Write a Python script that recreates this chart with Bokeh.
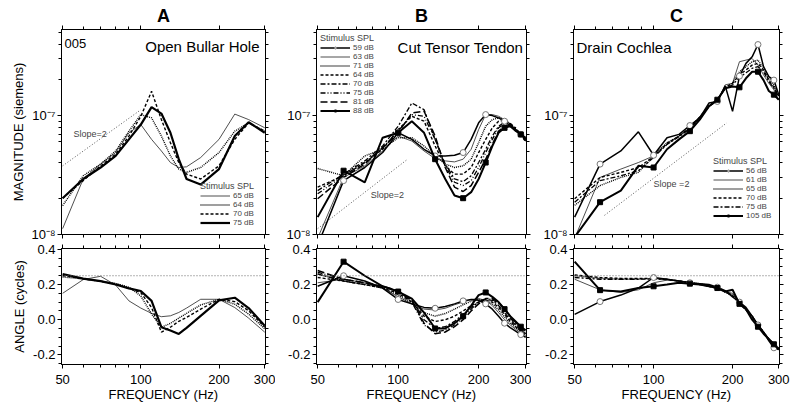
from bokeh.plotting import figure
from bokeh.models import (Range1d, FixedTicker, LogAxis, LinearAxis, CustomJSTickFormatter,
                          Label, Span, Legend, LegendItem)
from bokeh.layouts import gridplot
from bokeh.embed import file_html
from bokeh.resources import INLINE

FONT = "Liberation Sans"
UNIT = 1e-8  # magnitudes below are in units of 1e-8 siemens

# ---------------- Panel A : Open Bullar Hole ----------------
FREQ_A = [50, 60, 70, 80, 90, 100, 110, 120, 130, 140, 150, 170, 200, 230, 260, 300]
MAG_A_65 = [1.12, 2.93, 3.91, 4.89, 7.17, 8.41, 6.31, 5.04, 4.03, 3.66, 3.71, 4.44, 6.31, 10.3, 9.26, 7.9]
MAG_A_64 = [1.75, 3.12, 3.91, 5.04, 7.40, 10.2, 9.57, 6.73, 4.58, 3.55, 3.33, 3.66, 4.89, 7.40, 8.69, 7.40]
MAG_A_70 = [2.02, 2.84, 3.78, 4.73, 6.73, 9.87, 16.0, 9.26, 5.92, 4.03, 3.22, 2.93, 3.78, 6.31, 8.69, 7.40]
MAG_A_75 = [2.02, 2.93, 3.66, 4.58, 6.31, 8.41, 11.8, 10.4, 7.17, 4.30, 2.93, 2.63, 3.55, 6.73, 8.80, 7.17]
ANG_A_65 = [0.15, 0.228, 0.247, 0.197, 0.107, 0.066, 0.036, 0.017, 0.022, 0.041, 0.066, 0.116, 0.116, 0.069, 0.009, -0.071]
ANG_A_64 = [0.243, 0.232, 0.219, 0.206, 0.185, 0.135, 0.032, -0.043, -0.021, 0.009, 0.036, 0.084, 0.116, 0.088, 0.032, -0.052]
ANG_A_70 = [0.251, 0.232, 0.219, 0.204, 0.178, 0.154, 0.069, -0.071, -0.043, -0.009, 0.013, 0.06, 0.116, 0.103, 0.051, -0.043]
ANG_A_75 = [0.26, 0.234, 0.219, 0.2, 0.178, 0.163, 0.107, -0.043, -0.062, -0.081, -0.047, 0.022, 0.11, 0.125, 0.066, -0.034]
SLOPE_A_F = [50, 100]
SLOPE_A_V = [3.78, 11.2]

# ---------------- Panel B : Cut Tensor Tendon ----------------
FREQ_B = [50, 62.5, 75, 87.5, 100, 112.5, 125, 137.5, 150, 162.5, 175, 187.5, 200,
          212.5, 225, 237.5, 250, 262.5, 275, 287.5, 300]
MAG_B_59 = [0.81, 2.84, 3.66, 4.89, 7.17, 6.31, 5.21, 4.58, 4.58, 4.64, 4.89, 6.31, 8.69, 10.2, 10.0, 9.56, 8.97, 8.15, 7.40, 6.95, 6.3]
MAG_B_63 = [0.93, 3.02, 3.78, 5.04, 6.73, 6.11, 5.04, 4.35, 4.16, 4.08, 4.30, 5.21, 7.64, 10.2, 10.2, 9.87, 9.26, 8.41, 7.64, 6.95, 6.4]
MAG_B_71 = [3.59, 3.12, 4.58, 5.21, 6.52, 6.52, 5.55, 4.58, 3.91, 3.66, 3.78, 4.30, 5.92, 8.15, 9.26, 9.56, 9.26, 8.41, 7.64, 6.95, 6.2]
MAG_B_64 = [2.50, 3.12, 4.03, 5.21, 7.64, 9.87, 8.97, 5.55, 3.78, 3.22, 3.22, 3.66, 4.89, 6.31, 7.89, 8.97, 9.14, 8.58, 7.74, 6.95, 6.0]
MAG_B_70 = [2.34, 3.22, 4.16, 5.55, 8.15, 12.75, 11.22, 6.31, 3.91, 2.93, 2.78, 3.12, 4.03, 5.21, 6.73, 8.15, 8.80, 8.58, 7.89, 6.95, 6.1]
MAG_B_75 = [2.20, 3.12, 4.03, 5.38, 7.40, 10.19, 9.87, 6.31, 3.78, 2.75, 2.58, 2.84, 3.66, 4.89, 6.31, 7.89, 8.58, 8.41, 7.74, 6.95, 6.2]
MAG_B_81 = [2.0, 3.02, 3.91, 5.38, 7.17, 10.52, 10.87, 6.73, 3.66, 2.50, 2.30, 2.58, 3.33, 4.30, 5.73, 7.40, 8.15, 8.25, 7.64, 6.95, 6.3]
MAG_B_88 = [1.40, 3.44, 2.75, 6.52, 7.17, 8.97, 7.17, 4.30, 2.93, 2.13, 2.02, 2.27, 2.93, 4.03, 5.55, 7.17, 7.89, 8.15, 7.55, 6.95, 6.5]
ANG_B_59 = [0.19, 0.25, 0.22, 0.18, 0.115, 0.09, 0.07, 0.065, 0.075, 0.09, 0.107, 0.115, 0.11, 0.09, 0.06, 0.02, -0.02, -0.045, -0.065, -0.085, -0.1]
ANG_B_63 = [0.21, 0.23, 0.21, 0.18, 0.13, 0.09, 0.06, 0.055, 0.065, 0.085, 0.1, 0.115, 0.12, 0.11, 0.08, 0.04, 0.0, -0.03, -0.055, -0.075, -0.09]
ANG_B_71 = [0.26, 0.22, 0.2, 0.18, 0.14, 0.09, 0.04, 0.02, 0.035, 0.06, 0.085, 0.105, 0.115, 0.11, 0.09, 0.055, 0.015, -0.02, -0.045, -0.07, -0.085]
ANG_B_64 = [0.24, 0.22, 0.2, 0.18, 0.15, 0.1, 0.02, -0.01, 0.0, 0.02, 0.05, 0.08, 0.1, 0.11, 0.1, 0.07, 0.03, -0.01, -0.04, -0.065, -0.08]
ANG_B_70 = [0.26, 0.22, 0.2, 0.19, 0.16, 0.11, 0.0, -0.05, -0.04, -0.01, 0.03, 0.07, 0.1, 0.115, 0.11, 0.08, 0.04, 0.0, -0.03, -0.06, -0.08]
ANG_B_75 = [0.27, 0.23, 0.21, 0.19, 0.16, 0.1, -0.03, -0.07, -0.06, -0.03, 0.01, 0.06, 0.1, 0.12, 0.115, 0.09, 0.05, 0.01, -0.025, -0.055, -0.075]
ANG_B_81 = [0.28, 0.23, 0.21, 0.19, 0.165, 0.11, -0.02, -0.08, -0.07, -0.04, 0.0, 0.05, 0.09, 0.12, 0.12, 0.1, 0.06, 0.02, -0.015, -0.045, -0.07]
ANG_B_88 = [0.1, 0.33, 0.25, 0.19, 0.16, 0.12, 0.04, -0.05, -0.05, -0.02, 0.02, 0.08, 0.14, 0.155, 0.13, 0.1, 0.06, 0.02, -0.01, -0.04, -0.06]
SLOPE_B_F = [50, 108.5]
SLOPE_B_V = [1.12, 4.30]

# ---------------- Panel C : Drain Cochlea ----------------
FREQ_C = FREQ_B
MAG_C_56 = [1.40, 3.91, 5.04, 7.31, 4.64, 6.52, 6.95, 8.25, 9.56, 12.75, 13.16, 17.78, 10.87, 21.5, 27.5, 31.2, 39.6, 25.8, 21.3, 19.9, 14.96]
MAG_C_61 = [0.93, 3.02, 3.55, 4.03, 4.58, 5.73, 6.73, 7.89, 9.87, 11.96, 13.16, 18.13, 18.72, 28.4, 29.3, 30.2, 26.6, 22.0, 18.7, 16.5, 13.6]
MAG_C_65 = [1.76, 2.58, 3.02, 3.33, 4.58, 5.92, 6.73, 7.89, 9.56, 11.96, 13.59, 17.0, 18.7, 23.4, 25.8, 28.4, 29.3, 25.0, 20.6, 18.1, 15.0]
MAG_C_70 = [2.0, 3.02, 3.33, 3.66, 4.52, 5.85, 6.73, 7.89, 9.75, 12.1, 13.6, 17.3, 18.7, 22.0, 24.2, 26.6, 27.5, 24.2, 19.9, 17.3, 14.6]
MAG_C_75 = [1.87, 2.84, 3.12, 3.44, 4.44, 5.73, 6.65, 7.74, 9.56, 11.96, 13.4, 17.0, 18.1, 21.0, 22.9, 25.0, 25.8, 23.4, 19.3, 17.0, 14.4]
MAG_C_105 = [0.95, 1.87, 2.34, 3.78, 3.66, 5.21, 6.31, 7.40, 9.26, 11.96, 13.6, 17.0, 17.6, 17.3, 20.6, 23.4, 23.4, 19.9, 16.1, 15.0, 13.6]
ANG_C_56 = [0.03, 0.103, 0.14, 0.18, 0.24, 0.23, 0.22, 0.21, 0.205, 0.2, 0.185, 0.165, 0.13, 0.1, 0.07, 0.02, -0.03, -0.07, -0.12, -0.16, -0.17]
ANG_C_61 = [0.23, 0.17, 0.155, 0.17, 0.21, 0.225, 0.22, 0.21, 0.205, 0.195, 0.18, 0.16, 0.15, 0.1, 0.06, 0.02, -0.03, -0.07, -0.11, -0.14, -0.165]
ANG_C_65 = [0.25, 0.235, 0.23, 0.23, 0.235, 0.23, 0.22, 0.21, 0.205, 0.195, 0.18, 0.155, 0.14, 0.1, 0.06, 0.02, -0.03, -0.07, -0.11, -0.14, -0.16]
ANG_C_70 = [0.255, 0.24, 0.235, 0.235, 0.235, 0.23, 0.22, 0.21, 0.2, 0.19, 0.18, 0.16, 0.135, 0.095, 0.055, 0.015, -0.035, -0.075, -0.115, -0.145, -0.165]
ANG_C_75 = [0.24, 0.23, 0.23, 0.23, 0.232, 0.228, 0.22, 0.21, 0.2, 0.19, 0.178, 0.158, 0.14, 0.1, 0.06, 0.02, -0.03, -0.07, -0.11, -0.14, -0.16]
ANG_C_105 = [0.33, 0.168, 0.16, 0.18, 0.19, 0.2, 0.21, 0.205, 0.2, 0.19, 0.18, 0.16, 0.17, 0.09, 0.06, 0.0, -0.04, -0.08, -0.11, -0.14, -0.17]
SLOPE_C_F = [65, 190]
SLOPE_C_V = [1.45, 8.68]

MARK_IDX = [1, 4, 7, 10, 13, 16, 19]   # points carrying symbols

# ---------------- axes ----------------
X_RANGE = (49.5, 302)
MAG_RANGE = (1e-8, 5.3e-7)
ANG_RANGE = (-0.255, 0.405)
X_MAJOR = [50, 100, 200, 300]
X_MINOR = [60, 70, 80, 90]
MAG_MAJOR = [1e-8, 1e-7]
MAG_MINOR = [2e-8, 3e-8, 4e-8, 5e-8, 6e-8, 7e-8, 8e-8, 9e-8, 2e-7, 3e-7, 4e-7, 5e-7]
ANG_MAJOR = [-0.2, 0.0, 0.2, 0.4]
ANG_MINOR = [-0.25, -0.15, -0.1, -0.05, 0.05, 0.1, 0.15, 0.25, 0.3, 0.35]
REF_ANGLE = 0.25

# ---------------- layout (pixels) ----------------
FIG_W = [275, 256, 268]
BORDER_L = [61, 41, 42]
BORDER_R = [10, 5, 20]
MAG_FIG_H, ANG_FIG_H = 241, 168
MAG_TOP, MAG_BOT = 29, 7
ANG_TOP, ANG_BOT = 7, 45
MAG_FRAME_H = MAG_FIG_H - MAG_TOP - MAG_BOT

X_FMT = CustomJSTickFormatter(code="return Math.round(tick).toString();")
MAG_FMT = CustomJSTickFormatter(code="""
const e = Math.round(Math.log10(tick));
const sup = {"-":"\u207b","0":"\u2070","1":"\u00b9","2":"\u00b2","3":"\u00b3","4":"\u2074",
             "5":"\u2075","6":"\u2076","7":"\u2077","8":"\u2078","9":"\u2079"};
return "10" + String(e).split("").map(c => sup[c]).join("");
""")
ANG_FMT = CustomJSTickFormatter(code="return tick.toFixed(1);")
BLANK_FMT = CustomJSTickFormatter(code="return '';")


def style_axis(ax, labels, fmt=None):
    ax.axis_line_color = "black"
    ax.major_tick_line_color = "black"
    ax.minor_tick_line_color = "black"
    ax.major_tick_in = 0
    ax.major_tick_out = 4
    ax.minor_tick_in = 0
    ax.minor_tick_out = 3
    ax.major_label_text_font = FONT
    ax.major_label_text_color = "black"
    ax.axis_label_text_font = FONT
    ax.axis_label_text_font_style = "normal"
    ax.axis_label_text_font_size = "13px"
    ax.axis_label_text_color = "black"
    ax.axis_label_standoff = 3
    if labels:
        ax.major_label_text_font_size = "13px"
        ax.major_label_standoff = 2
        ax.formatter = fmt
    else:
        ax.major_label_text_font_size = "1px"
        ax.major_label_standoff = 0
        ax.formatter = BLANK_FMT


def make_fig(i, mag, letter=None):
    p = figure(output_backend="svg", toolbar_location=None,
               x_axis_type="log", y_axis_type="log" if mag else "linear",
               x_range=Range1d(*X_RANGE),
               y_range=Range1d(*(MAG_RANGE if mag else ANG_RANGE)),
               width=FIG_W[i], height=MAG_FIG_H if mag else ANG_FIG_H,
               min_border_left=BORDER_L[i], min_border_right=BORDER_R[i],
               min_border_top=MAG_TOP if mag else ANG_TOP,
               min_border_bottom=MAG_BOT if mag else ANG_BOT)
    if letter:
        p.title.text = letter
        p.title.align = "center"
        p.title.offset = 4
        p.title.standoff = 0
        p.title.text_font = FONT
        p.title.text_font_size = "18px"
        p.title.text_font_style = "bold"
        p.title.text_color = "black"
    p.grid.visible = False
    p.outline_line_color = "black"
    p.outline_line_width = 1
    p.background_fill_color = "white"
    p.border_fill_color = "white"
    xt = FixedTicker(ticks=X_MAJOR, minor_ticks=X_MINOR)
    yt = FixedTicker(ticks=MAG_MAJOR if mag else ANG_MAJOR,
                     minor_ticks=MAG_MINOR if mag else ANG_MINOR)
    below = p.below[0]
    left = p.left[0]
    below.ticker = xt
    left.ticker = yt
    style_axis(left, True, MAG_FMT if mag else ANG_FMT)
    style_axis(below, not mag, X_FMT)
    if not mag:
        below.axis_label = "FREQUENCY (Hz)"
        below.major_label_standoff = 6
        below.axis_label_standoff = 0
    top = LogAxis(ticker=xt)
    style_axis(top, False)
    p.add_layout(top, "above")
    right = LogAxis(ticker=yt) if mag else LinearAxis(ticker=yt)
    style_axis(right, False)
    p.add_layout(right, "right")
    if not mag:
        p.add_layout(Span(location=REF_ANGLE, dimension="width", line_color="#666666",
                          line_dash="1 2", line_width=1))
    return p, left


def draw(p, freq, vals, st, scale=1.0):
    ys = [v * scale for v in vals]
    r = p.line(freq, ys, line_color=st.get("color", "black"), line_width=st["w"],
               line_dash=st["dash"])
    rs = [r]
    if st.get("marker"):
        mx = [freq[k] for k in MARK_IDX]
        my = [ys[k] for k in MARK_IDX]
        if st["marker"] == "circle":
            m = p.scatter(mx, my, marker="circle", size=6, fill_color="white",
                          line_color="#777777", line_width=1)
        else:
            m = p.scatter(mx, my, marker="square", size=5, fill_color="black",
                          line_color="black")
        rs.append(m)
    return rs


def legend(p, items, **loc):
    lg = Legend(items=[LegendItem(label=lab, renderers=rs) for lab, rs in items],
                title="Stimulus SPL", **loc)
    lg.title_text_font = FONT
    lg.title_text_font_size = "9px"
    lg.title_text_font_style = "normal"
    lg.title_standoff = 0
    lg.label_text_font = FONT
    lg.label_text_font_size = "8px"
    lg.glyph_width = 30
    lg.glyph_height = 5
    lg.label_height = 5
    lg.label_standoff = 3
    lg.spacing = 0
    lg.padding = 1
    lg.border_line_alpha = 0
    lg.background_fill_alpha = 0
    p.add_layout(lg)


def label(p, text, x, y, size, align="left", baseline="alphabetic", units="screen",
          color="black"):
    p.add_layout(Label(x=x, y=y, x_units=units, y_units=units, text=text,
                       text_font=FONT, text_font_size=size, text_align=align,
                       text_baseline=baseline, text_color=color))


THIN = dict(dash="solid", w=0.8, color="#222222")
DOT = dict(dash="1 1", w=1.4)
DASH = dict(dash="3 2", w=1.4)
DASHDOT = dict(dash="5 2 2 2", w=1.3)
DASHDOTDOT = dict(dash="5 2 1 2 1 2", w=1.3)
LONGDASH = dict(dash="7 3", w=1.5)
THICK = dict(dash="solid", w=2.2)
CIRC = dict(dash="solid", w=1.5, marker="circle")
SQR = dict(dash="solid", w=2.0, marker="square")

# ================= Panel A =================
ma, ma_left = make_fig(0, True, "A")
aa, aa_left = make_fig(0, False)
ma_left.axis_label = "MAGNITUDE (siemens)"
aa_left.axis_label = "ANGLE (cycles)"
ma.line(SLOPE_A_F, [v * UNIT for v in SLOPE_A_V], line_dash="1 2", line_color="#555555", line_width=1)
rA = {}
rA["65 dB"] = draw(ma, FREQ_A, MAG_A_65, THIN, UNIT)
rA["64 dB"] = draw(ma, FREQ_A, MAG_A_64, DOT, UNIT)
rA["70 dB"] = draw(ma, FREQ_A, MAG_A_70, DASH, UNIT)
rA["75 dB"] = draw(ma, FREQ_A, MAG_A_75, THICK, UNIT)
draw(aa, FREQ_A, ANG_A_65, THIN)
draw(aa, FREQ_A, ANG_A_64, DOT)
draw(aa, FREQ_A, ANG_A_70, DASH)
draw(aa, FREQ_A, ANG_A_75, THICK)
legend(ma, [(k, rA[k]) for k in ["65 dB", "64 dB", "70 dB", "75 dB"]], location=(138, 6))
label(ma, "005", 3, MAG_FRAME_H - 14, "13px")
label(ma, "Open Bullar Hole", 198, MAG_FRAME_H - 17, "15px", align="right")
label(ma, "Slope=2", 55, 7.0e-8, "9px", baseline="middle", units="data", color="#444444")

# ================= Panel B =================
mb, _ = make_fig(1, True, "B")
ab, _ = make_fig(1, False)
mb.line(SLOPE_B_F, [v * UNIT for v in SLOPE_B_V], line_dash="1 2", line_color="#555555", line_width=1)
rB = {}
rB["63 dB"] = draw(mb, FREQ_B, MAG_B_63, THIN, UNIT)
rB["71 dB"] = draw(mb, FREQ_B, MAG_B_71, DOT, UNIT)
rB["64 dB"] = draw(mb, FREQ_B, MAG_B_64, DASH, UNIT)
rB["70 dB"] = draw(mb, FREQ_B, MAG_B_70, DASHDOT, UNIT)
rB["75 dB"] = draw(mb, FREQ_B, MAG_B_75, DASHDOTDOT, UNIT)
rB["81 dB"] = draw(mb, FREQ_B, MAG_B_81, LONGDASH, UNIT)
rB["59 dB"] = draw(mb, FREQ_B, MAG_B_59, CIRC, UNIT)
rB["88 dB"] = draw(mb, FREQ_B, MAG_B_88, SQR, UNIT)
draw(ab, FREQ_B, ANG_B_63, THIN)
draw(ab, FREQ_B, ANG_B_71, DOT)
draw(ab, FREQ_B, ANG_B_64, DASH)
draw(ab, FREQ_B, ANG_B_70, DASHDOT)
draw(ab, FREQ_B, ANG_B_75, DASHDOTDOT)
draw(ab, FREQ_B, ANG_B_81, LONGDASH)
draw(ab, FREQ_B, ANG_B_59, CIRC)
draw(ab, FREQ_B, ANG_B_88, SQR)
legend(mb, [(k, rB[k]) for k in ["59 dB", "63 dB", "71 dB", "64 dB", "70 dB", "75 dB", "81 dB", "88 dB"]],
       location="top_left", margin=3)
label(mb, "Cut Tensor Tendon", 207, MAG_FRAME_H - 18, "15px", align="right")
label(mb, "Slope=2", 79, 2.15e-8, "9px", baseline="middle", units="data", color="#444444")

# ================= Panel C =================
mc, _ = make_fig(2, True, "C")
ac, _ = make_fig(2, False)
mc.line(SLOPE_C_F, [v * UNIT for v in SLOPE_C_V], line_dash="1 2", line_color="#555555", line_width=1)
rC = {}
rC["61 dB"] = draw(mc, FREQ_C, MAG_C_61, THIN, UNIT)
rC["65 dB"] = draw(mc, FREQ_C, MAG_C_65, DOT, UNIT)
rC["70 dB"] = draw(mc, FREQ_C, MAG_C_70, DASH, UNIT)
rC["75 dB"] = draw(mc, FREQ_C, MAG_C_75, DASHDOT, UNIT)
rC["56 dB"] = draw(mc, FREQ_C, MAG_C_56, CIRC, UNIT)
rC["105 dB"] = draw(mc, FREQ_C, MAG_C_105, SQR, UNIT)
draw(ac, FREQ_C, ANG_C_61, THIN)
draw(ac, FREQ_C, ANG_C_65, DOT)
draw(ac, FREQ_C, ANG_C_70, DASH)
draw(ac, FREQ_C, ANG_C_75, DASHDOT)
draw(ac, FREQ_C, ANG_C_56, CIRC)
draw(ac, FREQ_C, ANG_C_105, SQR)
legend(mc, [(k, rC[k]) for k in ["56 dB", "61 dB", "65 dB", "70 dB", "75 dB", "105 dB"]],
       location=(139, 13))
label(mc, "Drain Cochlea", 3, MAG_FRAME_H - 18, "15px")
label(mc, "Slope =2", 100, 2.66e-8, "9px", baseline="middle", units="data", color="#444444")

grid = gridplot([[ma, mb, mc], [aa, ab, ac]], toolbar_location=None)

open("out.html", "w").write(file_html(grid, INLINE))
